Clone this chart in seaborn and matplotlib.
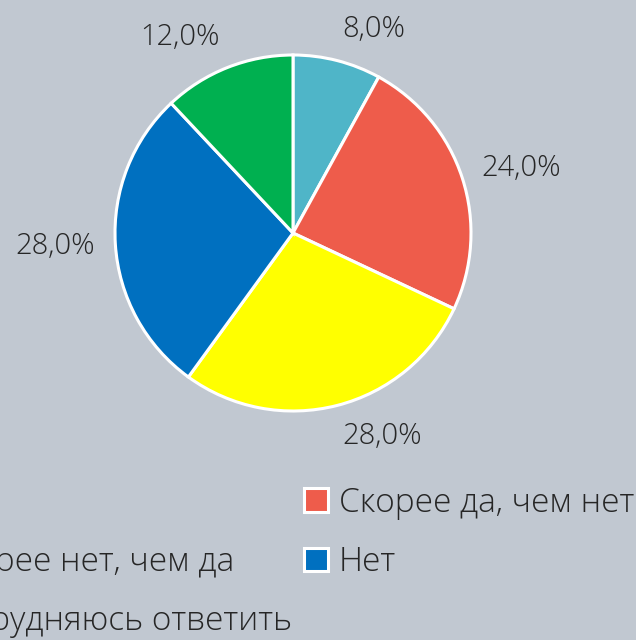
import matplotlib
matplotlib.use("Agg")
import numpy as np
import matplotlib.pyplot as plt
import seaborn as sns

# survey answers, clockwise from 12 o'clock
categories = ["Да", "Скорее да, чем нет", "Скорее нет, чем да", "Нет", "Затрудняюсь ответить"]
shares = [8.0, 24.0, 28.0, 28.0, 12.0]
colors = ["#4FB5C8", "#EE5C4B", "#FFFF00", "#0070C0", "#00B050"]

bg = "#C1C8D1"
ink = "#262626"
sns.set_style("white", {"axes.facecolor": bg, "figure.facecolor": bg})
plt.rcParams["font.family"] = ["Open Sans", "DejaVu Sans"]

fig = plt.figure(figsize=(6.36, 6.4), dpi=100)
# pie centre ~ (293, 233) px, radius ~178 px
r = 178
w = 2.5 * r
ax = fig.add_axes([(293 - w / 2) / 636, (640 - 233 - w / 2) / 640, w / 636, w / 640])

wedges, texts = ax.pie(
    shares,
    colors=colors,
    startangle=90,
    counterclock=False,
    wedgeprops=dict(edgecolor="white", linewidth=2.2),
)
ax.set_aspect("equal")

# data labels "outside end", Excel style: anchored next to the arc midpoint
gap = 20 / r
half_h = 12 / r
for wdg, val in zip(wedges, shares):
    ang = np.deg2rad((wdg.theta1 + wdg.theta2) / 2)
    c, s = np.cos(ang), np.sin(ang)
    ax.text(
        c * (1 + gap), s * (1 + gap + half_h),
        f"{val:.1f}%".replace(".", ","),
        ha="left" if c >= 0 else "right", va="center",
        fontsize=21, color=ink, fontweight="light", clip_on=False,
    )

# legend laid out like Excel (row-wise, two columns) -> column-major order here
order = [0, 2, 4, 1, 3]
fig.legend(
    [wedges[i] for i in order],
    [categories[i] for i in order],
    ncol=2,
    loc="upper right",
    bbox_to_anchor=(634 / 636, 1 - 486 / 640),
    frameon=False,
    borderpad=0,
    borderaxespad=0,
    prop=dict(size=24, weight="light"),
    handlelength=0.7,
    handleheight=0.7,
    handletextpad=0.33,
    columnspacing=0.36,
    labelspacing=0.78,
    labelcolor=ink,
)

fig.savefig("out.png", dpi=100, facecolor=bg)
